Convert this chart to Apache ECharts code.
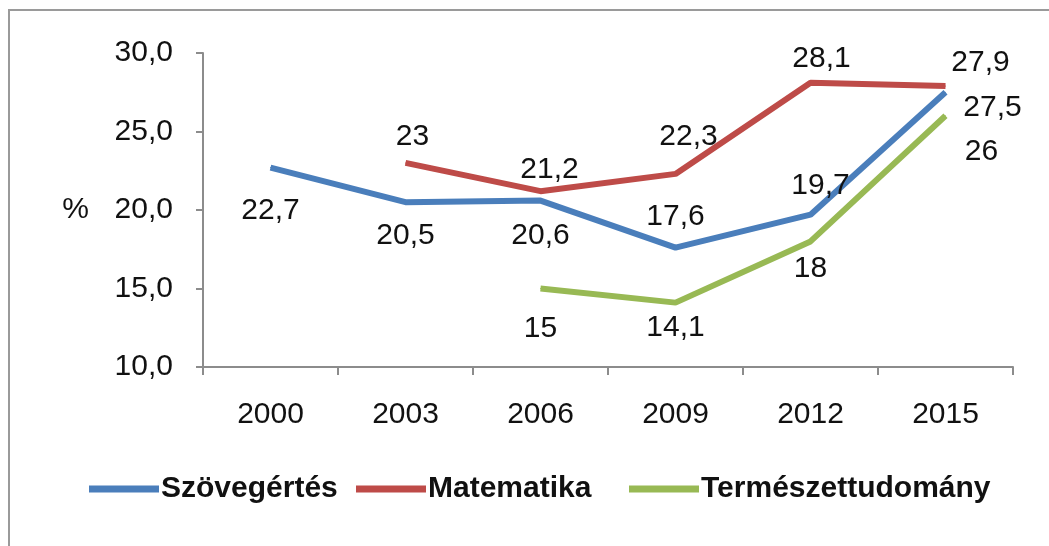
<!DOCTYPE html>
<html>
<head>
<meta charset="utf-8">
<script src="https://cdn.jsdelivr.net/npm/echarts@6/dist/echarts.min.js"></script>
<style>
  html, body { margin: 0; padding: 0; background: #fff; }
  #main { width: 1049px; height: 546px; }
</style>
</head>
<body>
<div id="main"></div>
<script>
// adatok
var years = ['2000', '2003', '2006', '2009', '2012', '2015'];
var szoveg = [22.7, 20.5, 20.6, 17.6, 19.7, 27.5];
var matek = [null, 23, 21.2, 22.3, 28.1, 27.9];
var termesz = [null, null, 15, 14.1, 18, 26];

// cimkek eltolasa a ponthoz kepest
var szovegOff = [[0, 43], [0, 34], [0, 35], [0, -31], [10, -29], [47, 15]];
var matekOff = [null, [7, -26], [9, -21], [13, -37], [11, -24], [35, -23]];
var termeszOff = [null, null, [0, 40], [0, 25], [0, 27], [36, 36]];

var font = 'Liberation Sans, Arial, sans-serif';

function buildData(vals, offs) {
    var out = [];
    for (var i = 0; i < vals.length; i++) {
        if (vals[i] == null) {
            out.push(null);
            continue;
        }
        out.push({
            value: vals[i],
            label: { offset: offs[i] }
        });
    }
    return out;
}

function fmt(p) {
    return String(p.value).replace('.', ',');
}

function lineSeries(name, color, vals, offs) {
    return {
        name: name,
        type: 'line',
        data: buildData(vals, offs),
        symbol: 'circle',
        symbolSize: 1,
        showSymbol: true,
        connectNulls: false,
        lineStyle: { color: color, width: 6 },
        itemStyle: { color: color },
        label: {
            show: true,
            position: 'inside',
            formatter: fmt,
            color: '#111',
            fontFamily: font,
            fontSize: 30
        },
        emphasis: { disabled: true }
    };
}

function legendAt(left, name) {
    return {
        bottom: 37,
        left: left,
        icon: 'rect',
        itemWidth: 70,
        itemHeight: 7,
        textStyle: {
            fontFamily: font,
            fontSize: 30,
            fontWeight: 'bold',
            color: '#111',
            padding: [0, 0, 0, -3]
        },
        data: [name]
    };
}

var myChart = echarts.init(document.getElementById('main'));
myChart.setOption({
    animation: false,
    backgroundColor: '#fff',
    graphic: [{
        type: 'rect',
        shape: { x: 9, y: 10, width: 1100, height: 600 },
        style: { fill: 'none', stroke: '#9a9a9a', lineWidth: 2 },
        silent: true
    }],
    legend: [
        legendAt(84, 'Szövegértés'),
        legendAt(351, 'Matematika'),
        legendAt(624, 'Természettudomány')
    ],
    grid: {
        left: 203,
        right: 36,
        top: 53,
        bottom: 179
    },
    xAxis: {
        type: 'category',
        data: years,
        boundaryGap: true,
        axisLine: { lineStyle: { color: '#8c8c8c', width: 2 } },
        axisTick: { show: true, length: 8, lineStyle: { color: '#8c8c8c', width: 2 } },
        axisLabel: {
            color: '#111',
            fontFamily: font,
            fontSize: 30,
            margin: 33
        }
    },
    yAxis: {
        type: 'value',
        min: 10,
        max: 30,
        interval: 5,
        name: '%',
        nameLocation: 'middle',
        nameRotate: 0,
        nameGap: 114,
        nameTextStyle: { color: '#111', fontFamily: font, fontSize: 30 },
        splitLine: { show: false },
        axisLine: { show: true, lineStyle: { color: '#8c8c8c', width: 2 } },
        axisTick: { show: true, length: 7, lineStyle: { color: '#8c8c8c', width: 2 } },
        axisLabel: {
            color: '#111',
            fontFamily: font,
            fontSize: 30,
            margin: 30,
            formatter: function (v) { return v.toFixed(1).replace('.', ','); }
        }
    },
    series: [
        lineSeries('Szövegértés', '#4a7ebb', szoveg, szovegOff),
        lineSeries('Matematika', '#be4b48', matek, matekOff),
        lineSeries('Természettudomány', '#98b954', termesz, termeszOff)
    ]
});
</script>
</body>
</html>
